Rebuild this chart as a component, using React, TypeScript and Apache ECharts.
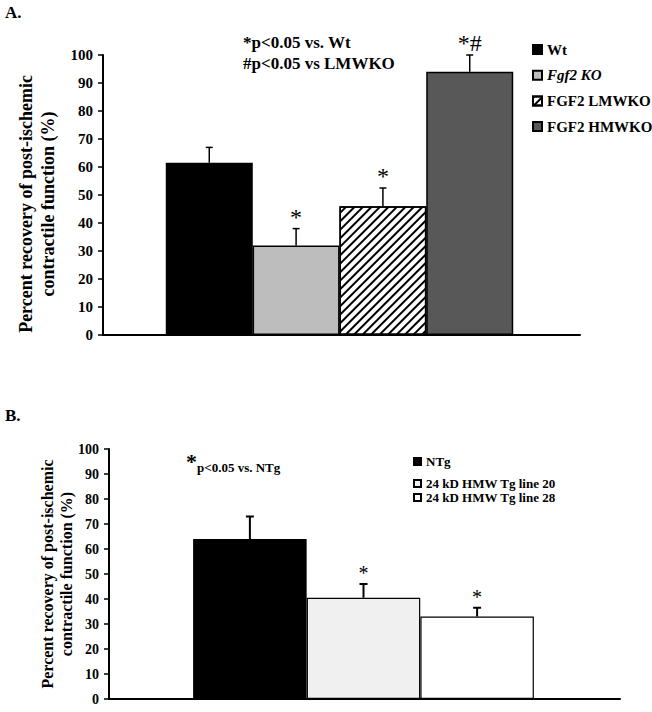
import React, { useEffect, useRef } from 'react';
import * as echarts from 'echarts';

// ---- Data ----
const groupsA = ['Wt', 'Fgf2 KO', 'FGF2 LMWKO', 'FGF2 HMWKO'];
const meansA = [61.5, 32, 46, 94];
const errorTopsA = [67, 38, 52.5, 100];
const marksA = ['', '*', '*', '*#'];

const groupsB = ['NTg', '24 kD HMW Tg line 20', '24 kD HMW Tg line 28'];
const meansB = [64, 40.5, 33];
const errorTopsB = [73, 46, 36.5];
const marksB = ['', '*', '*'];

const noteA1 = '*p<0.05 vs. Wt';
const noteA2 = '#p<0.05 vs LMWKO';
const noteBStar = '*';
const noteB = 'p<0.05 vs. NTg';
const yName = 'Percent recovery of post-ischemic\ncontractile function (%)';

const SERIF = '"Times New Roman", "Liberation Serif", serif';

const colorsA = ['#000000', '#bdbdbd', '#ffffff', '#585858'];
const colorsB = ['#000000', '#f0f0f0', '#ffffff'];

export default function App() {
  const ref = useRef<HTMLDivElement>(null);
  useEffect(() => {
    if (!ref.current) return;
    const chart = echarts.init(ref.current, null, { renderer: 'svg' });

    const barWA = 87;
    const barWB = 113.5;

    const mkErr = (marks: string[], cap: number, lw: number, fs: number, gap: number) =>
      (params: any, api: any) => {
        const x = api.value(0);
        const m = api.value(1);
        const e = api.value(2);
        const p0 = api.coord([x, m]);
        const p1 = api.coord([x, e]);
        const mark = marks[params.dataIndex];
        const children: any[] = [
          { type: 'line', shape: { x1: p0[0], y1: p0[1], x2: p1[0], y2: p1[1] }, style: { stroke: '#000', lineWidth: lw } },
          { type: 'line', shape: { x1: p1[0] - cap, y1: p1[1], x2: p1[0] + cap, y2: p1[1] }, style: { stroke: '#000', lineWidth: lw } },
        ];
        if (mark) {
          children.push({
            type: 'text',
            x: p1[0],
            y: p1[1] - gap,
            style: { text: mark, textAlign: 'center', textVerticalAlign: 'bottom', fontSize: fs, fontFamily: SERIF, fill: '#000' },
          });
        }
        return { type: 'group', children };
      };

    const decal = {
      symbol: 'rect',
      symbolSize: 1,
      dashArrayX: [1, 0],
      dashArrayY: [2, 4],
      rotation: -Math.PI / 4,
      color: '#000',
    };

    const seriesA: any[] = groupsA.map((name, i) => ({
      type: 'bar',
      name,
      xAxisIndex: 0,
      yAxisIndex: 0,
      barWidth: barWA,
      barGap: '-100%',
      data: [[i, meansA[i]]],
      itemStyle: {
        color: colorsA[i],
        borderColor: '#000',
        borderWidth: 1.5,
        ...(i === 2 ? { decal } : {}),
      },
    }));
    const seriesB: any[] = groupsB.map((name, i) => ({
      type: 'bar',
      name,
      xAxisIndex: 1,
      yAxisIndex: 1,
      barWidth: barWB,
      barGap: '-100%',
      data: [[i, meansB[i]]],
      itemStyle: { color: colorsB[i], borderColor: '#000', borderWidth: 1.2 },
    }));

    const yAxisCommon = (fs: number, margin: number, nameGap: number, nameFs: number, lh: number, pad: number) => ({
      type: 'value',
      min: 0,
      max: 100,
      interval: 10,
      axisLine: { show: true, onZero: false, lineStyle: { color: '#000', width: 2 } },
      axisTick: { show: true, length: 5, lineStyle: { color: '#000', width: 1.5 } },
      splitLine: { show: false },
      axisLabel: { fontFamily: SERIF, fontWeight: 'bold', fontSize: fs, color: '#000', margin },
      name: yName,
      nameLocation: 'middle',
      nameGap,
      nameMoveOverlap: false,
      nameTextStyle: {
        fontFamily: SERIF,
        fontWeight: 'bold',
        fontSize: nameFs,
        lineHeight: lh,
        color: '#000',
        padding: [0, pad, 0, 0],
      },
    });

    const xAxisCommon = (min: number, max: number) => ({
      type: 'value',
      min,
      max,
      axisLine: { show: true, onZero: false, lineStyle: { color: '#000', width: 2 } },
      axisTick: { show: false },
      axisLabel: { show: false },
      splitLine: { show: false },
    });

    const option: any = {
      animation: false,
      grid: [
        { left: 103, right: 72, top: 55, height: 280 },
        { left: 109, right: 32, top: 449, height: 250 },
      ],
      xAxis: [
        { gridIndex: 0, ...xAxisCommon(-0.5 - 63 / barWA, groupsA.length - 0.5 + 67 / barWA) },
        { gridIndex: 1, ...xAxisCommon(-0.5 - 84 / barWB, groupsB.length - 0.5 + 86 / barWB) },
      ],
      yAxis: [
        { gridIndex: 0, ...yAxisCommon(15, 10, 44, 18, 22, 18) },
        { gridIndex: 1, ...yAxisCommon(14, 10, 33, 16, 19, 0) },
      ],
      legend: [
        {
          data: groupsA.map((n, i) => (i === 1 ? { name: n, textStyle: { fontStyle: 'italic' } } : { name: n })),
          orient: 'vertical',
          left: 527,
          top: 37,
          itemWidth: 9,
          itemHeight: 9,
          itemGap: 10.7,
          icon: 'rect',
          selectedMode: false,
          textStyle: { fontFamily: SERIF, fontWeight: 'bold', fontSize: 15, color: '#000' },
        },
        {
          data: [groupsB[0]],
          orient: 'vertical',
          left: 408,
          top: 450,
          itemWidth: 7,
          itemHeight: 7,
          icon: 'rect',
          selectedMode: false,
          textStyle: { fontFamily: SERIF, fontWeight: 'bold', fontSize: 13, color: '#000' },
        },
        {
          data: groupsB.slice(1),
          orient: 'vertical',
          left: 408,
          top: 472,
          itemWidth: 7,
          itemHeight: 7,
          itemGap: 1,
          icon: 'rect',
          selectedMode: false,
          textStyle: { fontFamily: SERIF, fontWeight: 'bold', fontSize: 13, color: '#000' },
        },
      ],
      graphic: [
        { type: 'text', left: 5, top: 4, style: { text: 'A.', font: `bold 17px ${SERIF}`, fill: '#000' } },
        { type: 'text', left: 243, top: 34, style: { text: noteA1, font: `bold 17px ${SERIF}`, fill: '#000' } },
        { type: 'text', left: 243, top: 55, style: { text: noteA2, font: `bold 17px ${SERIF}`, fill: '#000' } },
        { type: 'text', left: 5, top: 407, style: { text: 'B.', font: `bold 17px ${SERIF}`, fill: '#000' } },
        { type: 'text', left: 186, top: 450, style: { text: noteBStar, font: `bold 22px ${SERIF}`, fill: '#000' } },
        { type: 'text', left: 197, top: 461, style: { text: noteB, font: `bold 13px ${SERIF}`, fill: '#000' } },
      ],
      series: [
        ...seriesA,
        ...seriesB,
        {
          type: 'custom',
          xAxisIndex: 0,
          yAxisIndex: 0,
          clip: false,
          z: 5,
          encode: { x: 0, y: [1, 2] },
          data: groupsA.map((_, i) => [i, meansA[i], errorTopsA[i]]),
          renderItem: mkErr(marksA, 3.5, 1.5, 24, 0),
        },
        {
          type: 'custom',
          xAxisIndex: 1,
          yAxisIndex: 1,
          clip: false,
          z: 5,
          encode: { x: 0, y: [1, 2] },
          data: groupsB.map((_, i) => [i, meansB[i], errorTopsB[i]]),
          renderItem: mkErr(marksB, 4, 2, 20, 1),
        },
      ],
    };
    chart.setOption(option);
    return () => chart.dispose();
  }, []);
  return <div ref={ref} style={{ position: 'fixed', left: 0, top: 0, width: 652, height: 712, background: '#fff' }} />;
}
